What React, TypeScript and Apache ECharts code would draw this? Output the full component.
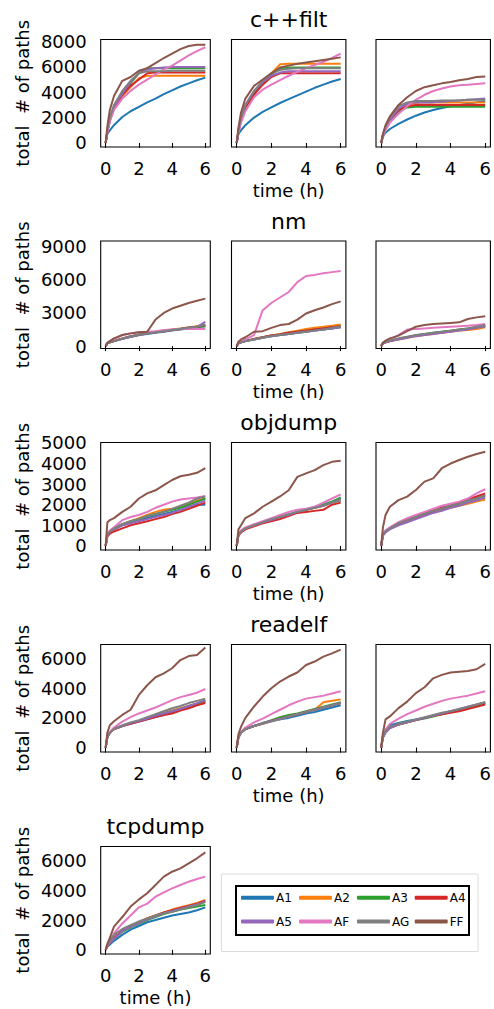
import React, { useEffect, useRef } from "react";
import * as echarts from "echarts";

// time points (hours)
const T = [0, 0.1, 0.25, 0.5, 1, 1.5, 2, 2.5, 3, 3.5, 4, 4.5, 5, 5.5, 6];
const NAMES = ["A1", "A2", "A3", "A4", "A5", "AF", "AG", "FF"];
const COLORS = ["#1f77b4", "#ff7f0e", "#2ca02c", "#d62728", "#9467bd", "#e377c2", "#7f7f7f", "#8c564b"];
const TITLES = ["c++filt", "nm", "objdump", "readelf", "tcpdump"];
const X_TICKS = [0, 2, 4, 6];
const Y_TICKS = [
  [0, 2000, 4000, 6000, 8000],
  [0, 3000, 6000, 9000],
  [0, 1000, 2000, 3000, 4000, 5000],
  [0, 2000, 4000, 6000],
  [0, 2000, 4000, 6000],
];
const Y_MIN = [-320, -220, -200, -300, -280];
const Y_MAX = [8160, 9520, 5020, 6950, 6930];

// series order: A1, A2, A3, A4, A5, AF, AG, FF
const cppfilt1 = [
  [0, 700, 1000, 1400, 2050, 2500, 2850, 3200, 3500, 3850, 4150, 4450, 4700, 4950, 5150],
  [0, 900, 1800, 2700, 3700, 4400, 5100, 5300, 5300, 5300, 5300, 5300, 5300, 5300, 5300],
  [0, 900, 1800, 2800, 3900, 4700, 5500, 5900, 5900, 5900, 5900, 5900, 5900, 5900, 5900],
  [0, 900, 1800, 2700, 3800, 4500, 5000, 5500, 5550, 5550, 5550, 5550, 5550, 5550, 5550],
  [0, 900, 1800, 2800, 3900, 4800, 5500, 5800, 5900, 5950, 6000, 6000, 6000, 6000, 6000],
  [0, 800, 1700, 2600, 3500, 4100, 4600, 5000, 5400, 5800, 6100, 6500, 6900, 7250, 7550],
  [0, 1000, 2000, 3000, 4100, 4900, 5500, 5650, 5650, 5650, 5700, 5700, 5700, 5700, 5700],
  [0, 1300, 2600, 3700, 4900, 5200, 5700, 5900, 6300, 6700, 7050, 7400, 7650, 7750, 7750],
];
const cppfilt2 = [
  [0, 700, 1000, 1400, 2000, 2450, 2800, 3150, 3450, 3750, 4050, 4350, 4600, 4850, 5050],
  [0, 900, 1800, 2800, 3900, 4800, 5500, 6200, 6250, 6250, 6250, 6250, 6250, 6250, 6250],
  [0, 900, 1800, 2800, 3900, 4700, 5400, 5850, 5950, 5950, 5950, 5950, 5950, 5950, 5950],
  [0, 900, 1800, 2800, 3800, 4600, 5200, 5500, 5500, 5500, 5500, 5500, 5500, 5500, 5500],
  [0, 1000, 2000, 3000, 4100, 4800, 5300, 5550, 5650, 5650, 5650, 5650, 5650, 5650, 5650],
  [0, 800, 1600, 2500, 3600, 4200, 4600, 4950, 5300, 5600, 5900, 6150, 6400, 6700, 7050],
  [0, 1000, 2000, 3000, 4100, 4900, 5500, 5750, 5850, 5900, 5900, 5900, 5900, 5900, 5900],
  [0, 1200, 2400, 3500, 4500, 5000, 5500, 5950, 6100, 6250, 6350, 6450, 6550, 6650, 6750],
];
const cppfilt3 = [
  [0, 500, 800, 1100, 1500, 1850, 2150, 2400, 2600, 2750, 2900, 3000, 3100, 3200, 3300],
  [0, 600, 1200, 1800, 2600, 3000, 3150, 3200, 3200, 3200, 3200, 3200, 3200, 3200, 3200],
  [0, 600, 1200, 1800, 2500, 2800, 2850, 2850, 2850, 2850, 2850, 2850, 2850, 2850, 2850],
  [0, 600, 1200, 1800, 2600, 2900, 3000, 3000, 3000, 3000, 3000, 3000, 3000, 3000, 3000],
  [0, 600, 1200, 1800, 2700, 3100, 3200, 3200, 3200, 3250, 3300, 3350, 3400, 3450, 3500],
  [0, 500, 1000, 1600, 2300, 2900, 3400, 3800, 4100, 4300, 4450, 4550, 4600, 4650, 4700],
  [0, 600, 1300, 2000, 2900, 3200, 3300, 3300, 3300, 3350, 3350, 3350, 3400, 3400, 3400],
  [0, 700, 1400, 2100, 3000, 3600, 4100, 4400, 4550, 4700, 4800, 4950, 5050, 5200, 5250],
];
const nm1 = [
  [0, 250, 350, 450, 650, 850, 1000, 1100, 1200, 1300, 1400, 1500, 1600, 1700, 1800],
  [0, 250, 350, 450, 650, 850, 1000, 1150, 1300, 1400, 1500, 1600, 1700, 1800, 1900],
  [0, 250, 350, 450, 650, 850, 1000, 1150, 1250, 1350, 1450, 1550, 1650, 1750, 1800],
  [0, 250, 350, 450, 700, 900, 1050, 1150, 1250, 1350, 1450, 1550, 1650, 1750, 1900],
  [0, 250, 350, 450, 650, 850, 1000, 1150, 1250, 1350, 1450, 1550, 1650, 1750, 2200],
  [0, 300, 450, 650, 1000, 1150, 1250, 1300, 1350, 1450, 1500, 1550, 1550, 1550, 1550],
  [0, 250, 350, 450, 700, 900, 1050, 1150, 1250, 1350, 1450, 1550, 1650, 1750, 1950],
  [0, 300, 450, 700, 1000, 1150, 1250, 1300, 2400, 3000, 3400, 3650, 3900, 4100, 4300],
];
const nm2 = [
  [0, 250, 350, 450, 600, 750, 900, 1000, 1100, 1200, 1300, 1400, 1500, 1600, 1700],
  [0, 250, 350, 450, 650, 800, 950, 1100, 1250, 1400, 1550, 1650, 1750, 1850, 1950],
  [0, 250, 350, 450, 650, 800, 950, 1050, 1200, 1300, 1400, 1500, 1600, 1700, 1800],
  [0, 250, 350, 450, 650, 800, 950, 1050, 1200, 1300, 1400, 1500, 1600, 1700, 1800],
  [0, 250, 350, 450, 600, 750, 900, 1000, 1100, 1200, 1300, 1400, 1500, 1600, 1700],
  [0, 350, 450, 600, 1000, 3250, 3900, 4400, 4900, 5800, 6350, 6450, 6600, 6700, 6800],
  [0, 250, 350, 450, 600, 750, 900, 1000, 1100, 1200, 1300, 1400, 1500, 1650, 1750],
  [0, 400, 600, 800, 1300, 1350, 1650, 1900, 2000, 2400, 2950, 3250, 3500, 3800, 4050],
];
const nm3 = [
  [0, 250, 350, 450, 650, 800, 950, 1050, 1150, 1250, 1350, 1450, 1550, 1700, 1850],
  [0, 250, 350, 450, 600, 750, 900, 1000, 1100, 1200, 1300, 1400, 1450, 1550, 1700],
  [0, 250, 350, 450, 650, 800, 950, 1100, 1200, 1300, 1400, 1500, 1600, 1700, 1800],
  [0, 250, 350, 450, 650, 800, 950, 1050, 1150, 1250, 1350, 1450, 1550, 1700, 1850],
  [0, 250, 350, 450, 600, 750, 900, 1000, 1100, 1200, 1300, 1400, 1500, 1650, 1800],
  [0, 300, 400, 550, 1000, 1500, 1550, 1600, 1650, 1700, 1750, 1800, 1850, 1900, 2000],
  [0, 300, 400, 500, 700, 850, 1000, 1100, 1200, 1300, 1400, 1500, 1600, 1750, 1900],
  [0, 300, 500, 700, 950, 1350, 1750, 1900, 2000, 2050, 2100, 2150, 2450, 2600, 2700],
];
const objdump1 = [
  [0, 550, 700, 800, 1000, 1150, 1250, 1350, 1450, 1550, 1650, 1750, 1900, 2000, 2000],
  [0, 550, 700, 850, 1050, 1200, 1350, 1500, 1650, 1750, 1800, 1900, 2050, 2200, 2300],
  [0, 550, 700, 850, 1050, 1200, 1300, 1450, 1550, 1650, 1750, 1850, 2000, 2150, 2300],
  [0, 450, 600, 700, 850, 1000, 1100, 1200, 1300, 1400, 1550, 1650, 1800, 1950, 2100],
  [0, 550, 700, 800, 1000, 1100, 1200, 1300, 1400, 1500, 1600, 1750, 1900, 2050, 2200],
  [0, 600, 750, 900, 1250, 1400, 1500, 1650, 1850, 2000, 2150, 2250, 2300, 2350, 2420],
  [0, 550, 700, 850, 1050, 1200, 1300, 1450, 1550, 1650, 1800, 1950, 2100, 2300, 2400],
  [0, 1150, 1250, 1350, 1650, 1900, 2300, 2550, 2700, 2950, 3200, 3380, 3450, 3550, 3780],
];
const objdump2 = [
  [0, 550, 700, 850, 1000, 1150, 1250, 1400, 1500, 1650, 1750, 1900, 2000, 2150, 2300],
  [0, 550, 700, 850, 1000, 1150, 1250, 1400, 1500, 1650, 1750, 1850, 1950, 2100, 2200],
  [0, 550, 700, 850, 1000, 1150, 1250, 1400, 1500, 1650, 1750, 1850, 2000, 2150, 2350],
  [0, 500, 650, 800, 950, 1100, 1200, 1300, 1450, 1600, 1650, 1700, 1750, 2000, 2100],
  [0, 550, 700, 850, 1000, 1150, 1250, 1400, 1500, 1650, 1750, 1850, 1950, 2100, 2250],
  [0, 600, 750, 900, 1050, 1200, 1350, 1500, 1650, 1750, 1800, 1900, 2100, 2300, 2500],
  [0, 550, 700, 850, 1000, 1150, 1300, 1400, 1550, 1650, 1750, 1850, 1950, 2100, 2200],
  [0, 800, 1000, 1350, 1580, 1900, 2150, 2400, 2700, 3350, 3520, 3680, 3920, 4080, 4130],
];
const objdump3 = [
  [0, 550, 700, 850, 1100, 1250, 1400, 1550, 1700, 1850, 1950, 2050, 2200, 2300, 2450],
  [0, 550, 700, 850, 1050, 1200, 1350, 1500, 1650, 1750, 1850, 1950, 2050, 2150, 2250],
  [0, 550, 700, 850, 1100, 1250, 1400, 1550, 1700, 1800, 1900, 2050, 2200, 2300, 2450],
  [0, 550, 700, 850, 1100, 1250, 1400, 1550, 1700, 1850, 1950, 2100, 2250, 2400, 2550],
  [0, 500, 650, 800, 1000, 1150, 1300, 1450, 1600, 1700, 1850, 1950, 2100, 2200, 2350],
  [0, 600, 750, 900, 1150, 1350, 1500, 1650, 1800, 1950, 2050, 2150, 2300, 2550, 2750],
  [0, 550, 700, 850, 1100, 1250, 1400, 1550, 1700, 1800, 1950, 2050, 2200, 2300, 2450],
  [0, 900, 1500, 1900, 2220, 2390, 2710, 3120, 3280, 3770, 4000, 4170, 4330, 4460, 4570],
];
const readelf1 = [
  [0, 700, 1000, 1250, 1450, 1600, 1750, 1900, 2050, 2200, 2400, 2550, 2750, 2900, 3100],
  [0, 700, 1000, 1250, 1450, 1650, 1800, 2000, 2200, 2350, 2500, 2650, 2800, 2950, 3150],
  [0, 700, 1000, 1250, 1450, 1650, 1800, 1950, 2150, 2300, 2450, 2600, 2800, 2950, 3150],
  [0, 700, 1000, 1250, 1450, 1600, 1750, 1900, 2050, 2200, 2300, 2500, 2650, 2850, 3000],
  [0, 700, 1000, 1250, 1450, 1650, 1800, 1950, 2150, 2300, 2450, 2600, 2800, 3000, 3200],
  [0, 700, 1050, 1350, 1750, 2050, 2300, 2500, 2700, 2950, 3200, 3400, 3550, 3700, 3950],
  [0, 700, 1000, 1250, 1500, 1700, 1850, 2050, 2250, 2450, 2650, 2800, 3000, 3150, 3300],
  [0, 1000, 1500, 1770, 2200, 2550, 3550, 4200, 4740, 5000, 5350, 5900, 6170, 6240, 6750],
];
const readelf2 = [
  [0, 700, 1000, 1250, 1450, 1650, 1800, 1900, 2000, 2150, 2300, 2400, 2550, 2700, 2850],
  [0, 700, 1000, 1250, 1450, 1650, 1800, 1950, 2100, 2250, 2400, 2550, 3050, 3150, 3250],
  [0, 700, 1000, 1250, 1450, 1650, 1850, 2050, 2200, 2300, 2450, 2600, 2750, 2900, 3050],
  [0, 700, 1000, 1250, 1450, 1600, 1800, 1950, 2100, 2250, 2400, 2550, 2700, 2850, 3000],
  [0, 700, 1000, 1250, 1450, 1650, 1800, 1950, 2100, 2250, 2400, 2550, 2700, 2850, 3000],
  [0, 700, 1050, 1350, 1700, 1950, 2250, 2550, 2850, 3100, 3300, 3400, 3500, 3650, 3800],
  [0, 700, 1000, 1250, 1450, 1600, 1750, 1900, 2100, 2250, 2400, 2550, 2700, 2850, 3000],
  [0, 900, 1400, 2000, 2770, 3440, 4000, 4450, 4790, 5060, 5570, 5800, 6130, 6350, 6600],
];
const readelf3 = [
  [0, 800, 1200, 1500, 1650, 1800, 1900, 2000, 2150, 2300, 2450, 2550, 2700, 2850, 3000],
  [0, 700, 1050, 1350, 1550, 1700, 1850, 2000, 2150, 2250, 2400, 2550, 2700, 2850, 2950],
  [0, 700, 1050, 1350, 1550, 1700, 1850, 1950, 2100, 2250, 2400, 2550, 2700, 2850, 3000],
  [0, 700, 1050, 1350, 1550, 1700, 1850, 2000, 2150, 2250, 2350, 2450, 2600, 2750, 2900],
  [0, 650, 1000, 1300, 1550, 1700, 1850, 2000, 2150, 2300, 2450, 2600, 2750, 2900, 3050],
  [0, 800, 1200, 1600, 1950, 2250, 2500, 2750, 2950, 3150, 3300, 3400, 3500, 3650, 3800],
  [0, 750, 1100, 1400, 1600, 1750, 1900, 2050, 2200, 2350, 2450, 2600, 2750, 2900, 3050],
  [0, 1000, 1900, 2100, 2660, 3100, 3670, 4070, 4670, 4900, 5060, 5120, 5170, 5280, 5640],
];
const tcpdump1 = [
  [0, 200, 350, 600, 1000, 1350, 1600, 1850, 2000, 2150, 2300, 2400, 2500, 2650, 2850],
  [0, 250, 500, 800, 1300, 1600, 1850, 2100, 2300, 2500, 2700, 2850, 3000, 3150, 3350],
  [0, 250, 450, 750, 1200, 1500, 1750, 2000, 2200, 2400, 2550, 2700, 2800, 2900, 3000],
  [0, 250, 500, 800, 1300, 1600, 1850, 2100, 2300, 2500, 2650, 2800, 2950, 3100, 3300],
  [0, 250, 450, 750, 1250, 1550, 1800, 2050, 2250, 2450, 2600, 2750, 2900, 3050, 3250],
  [0, 300, 600, 1100, 1770, 2300, 2850, 3100, 3560, 3850, 4120, 4350, 4570, 4750, 4910],
  [0, 300, 600, 1000, 1400, 1650, 1900, 2100, 2300, 2450, 2550, 2700, 2850, 3000, 3200],
  [0, 400, 800, 1550, 2200, 2900, 3380, 3790, 4350, 4910, 5240, 5460, 5800, 6140, 6540],
];

const ROWS = [
  [cppfilt1, cppfilt2, cppfilt3],
  [nm1, nm2, nm3],
  [objdump1, objdump2, objdump3],
  [readelf1, readelf2, readelf3],
  [tcpdump1],
];

const FONT = "DejaVu Sans";
const COL_LEFT = [100.7, 231.5, 376];
const COL_W = [109.6, 114.4, 114.4];
const ROW_TOP = [39.5, 241, 442.5, 644.5, 846.5];
const ROW_H = 107.5;
const LEGEND_X = [241, 299, 357, 414.7];
const LEGEND_Y = [898.3, 922];

export default function App() {
  const ref = useRef<HTMLDivElement>(null);
  useEffect(() => {
    if (!ref.current) return;
    const chart = echarts.init(ref.current, null, { renderer: "svg" });
    const grids: any[] = [];
    const xAxes: any[] = [];
    const yAxes: any[] = [];
    const series: any[] = [];
    const graphics: any[] = [];
    const plain = (v: number) => String(v);
    ROWS.forEach((row, r) => {
      row.forEach((panel, c) => {
        const idx = grids.length;
        grids.push({
          left: COL_LEFT[c], top: ROW_TOP[r], width: COL_W[c], height: ROW_H,
          show: true, borderColor: "#000", borderWidth: 1.1, backgroundColor: "#fff",
        });
        xAxes.push({
          type: "value", gridIndex: idx, min: -0.3, max: 6.3,
          axisLine: { show: false }, splitLine: { show: false },
          axisTick: { show: true, customValues: X_TICKS, length: 5, lineStyle: { color: "#000", width: 1.1 } },
          axisLabel: { show: true, customValues: X_TICKS, formatter: plain, margin: 12, fontSize: 18, fontFamily: FONT, color: "#000" },
        });
        yAxes.push({
          type: "value", gridIndex: idx, min: Y_MIN[r], max: Y_MAX[r],
          axisLine: { show: false }, splitLine: { show: false }, axisTick: { show: false },
          axisLabel: { show: c === 0, customValues: Y_TICKS[r], formatter: plain, margin: 14, fontSize: 18, fontFamily: FONT, color: "#000" },
        });
        panel.forEach((vals, k) => {
          series.push({
            type: "line", name: NAMES[k], xAxisIndex: idx, yAxisIndex: idx,
            data: T.map((t, i) => [t, vals[i]]),
            showSymbol: false, symbol: "none", silent: true,
            lineStyle: { color: COLORS[k], width: 2 }, itemStyle: { color: COLORS[k] },
          });
        });
      });
      const titleCol = row.length === 3 ? 1 : 0;
      const cx = COL_LEFT[titleCol] + COL_W[titleCol] / 2;
      graphics.push({
        type: "text", x: cx, y: ROW_TOP[r] - 20,
        style: { text: TITLES[r], fontSize: 22, fontFamily: FONT, fill: "#000", align: "center", verticalAlign: "middle" },
      });
      graphics.push({
        type: "text", x: cx, y: ROW_TOP[r] + ROW_H + 43,
        style: { text: "time (h)", fontSize: 18, fontFamily: FONT, fill: "#000", align: "center", verticalAlign: "middle" },
      });
      graphics.push({
        type: "text", x: 22, y: ROW_TOP[r] + ROW_H / 2, rotation: Math.PI / 2,
        style: { text: "total  # of paths", fontSize: 18, fontFamily: FONT, fill: "#000", align: "center", verticalAlign: "middle" },
      });
    });
    graphics.push({
      type: "rect", shape: { x: 221.5, y: 874, width: 256.5, height: 77.5 },
      style: { fill: "#fff", stroke: "#dcdcdc", lineWidth: 1 }, z: -1,
    });
    graphics.push({
      type: "rect", shape: { x: 236, y: 886, width: 233, height: 49 },
      style: { fill: "#fff", stroke: "#000", lineWidth: 2 }, z: -1,
    });
    const legends = NAMES.map((name, k) => ({
      data: [name], orient: "horizontal",
      left: LEGEND_X[k % 4], top: LEGEND_Y[Math.floor(k / 4)] - 6.5,
      padding: 0, icon: "roundRect", itemWidth: 33, itemHeight: 4,
      textStyle: { fontSize: 12, fontFamily: FONT, color: "#000", padding: [0, 0, 0, -3] },
      selectedMode: false,
    }));
    chart.setOption({
      animation: false,
      backgroundColor: "#fff",
      grid: grids, xAxis: xAxes, yAxis: yAxes, series,
      legend: legends,
      graphic: graphics,
    });
    return () => chart.dispose();
  }, []);
  return <div ref={ref} style={{ position: "absolute", left: 0, top: 0, width: 494, height: 1009 }} />;
}
